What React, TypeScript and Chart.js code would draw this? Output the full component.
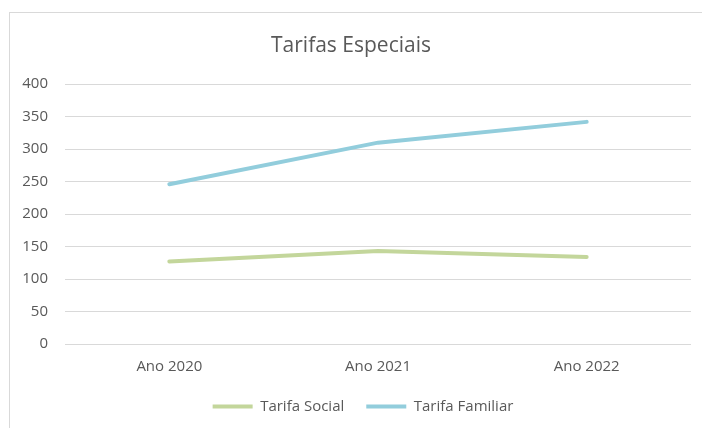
import React, { useEffect, useRef } from "react";
import { Chart, registerables } from "chart.js";

Chart.register(...registerables);

const categories = ["Ano 2020", "Ano 2021", "Ano 2022"];
const tarifaSocial = [127, 143, 134];
const tarifaFamiliar = [246, 310, 342];
const seriesNames = ["Tarifa Social", "Tarifa Familiar"];
const titleText = "Tarifas Especiais";

const FONT = "'Open Sans', 'Noto Sans', sans-serif";

const legendShift = {
  id: "legendShift",
  afterLayout(chart: any) {
    if (chart.legend) {
      chart.legend.left += 12;
      chart.legend.right += 12;
    }
  },
};

export default function App() {
  const ref = useRef<HTMLCanvasElement | null>(null);

  useEffect(() => {
    if (!ref.current) return;
    const chart = new Chart(ref.current, {
      type: "line",
      data: {
        labels: categories,
        datasets: [
          {
            label: seriesNames[0],
            data: tarifaSocial,
            borderColor: "#C3D69B",
            backgroundColor: "#C3D69B",
            borderWidth: 4,
            borderCapStyle: "round",
            pointRadius: 0,
            pointStyle: "line",
            tension: 0,
          },
          {
            label: seriesNames[1],
            data: tarifaFamiliar,
            borderColor: "#92CDDC",
            backgroundColor: "#92CDDC",
            borderWidth: 4,
            borderCapStyle: "round",
            pointRadius: 0,
            pointStyle: "line",
            tension: 0,
          },
        ],
      },
      options: {
        animation: false,
        responsive: false,
        maintainAspectRatio: false,
        layout: { padding: { left: 11, right: 11, top: 0, bottom: 4 } },
        plugins: {
          title: {
            display: true,
            text: titleText,
            color: "#595959",
            font: { family: FONT, size: 21, weight: "normal" },
            padding: { top: 33, bottom: 26 },
          },
          legend: {
            position: "bottom",
            labels: {
              usePointStyle: true,
              pointStyleWidth: 40,
              color: "#595959",
              font: { family: FONT, size: 15 },
              padding: 22,
            },
          },
          tooltip: { enabled: false },
        },
        scales: {
          x: {
            offset: true,
            grid: { display: false, drawTicks: false },
            border: { display: false },
            ticks: { color: "#595959", font: { family: FONT, size: 15 }, padding: 14 },
            afterFit: (scale: any) => {
              scale.height = 33;
            },
          },
          y: {
            min: 0,
            max: 400,
            grid: { color: "#D9D9D9", lineWidth: 1, drawTicks: false },
            border: { display: false },
            ticks: {
              stepSize: 50,
              color: "#595959",
              font: { family: FONT, size: 15 },
              padding: 17,
            },
            afterFit: (scale: any) => {
              scale.width = 54;
            },
          },
        },
      },
      plugins: [legendShift],
    });
    return () => chart.destroy();
  }, []);

  return (
    <div style={{ position: "fixed", left: 0, top: 0, width: 702, height: 428, background: "#fff" }}>
      <canvas ref={ref} width={702} height={428} style={{ display: "block" }} />
      <div
        style={{
          position: "absolute",
          left: 9,
          top: 12,
          right: 0,
          bottom: 0,
          borderTop: "1px solid #D9D9D9",
          borderLeft: "1px solid #D9D9D9",
          pointerEvents: "none",
        }}
      />
    </div>
  );
}
